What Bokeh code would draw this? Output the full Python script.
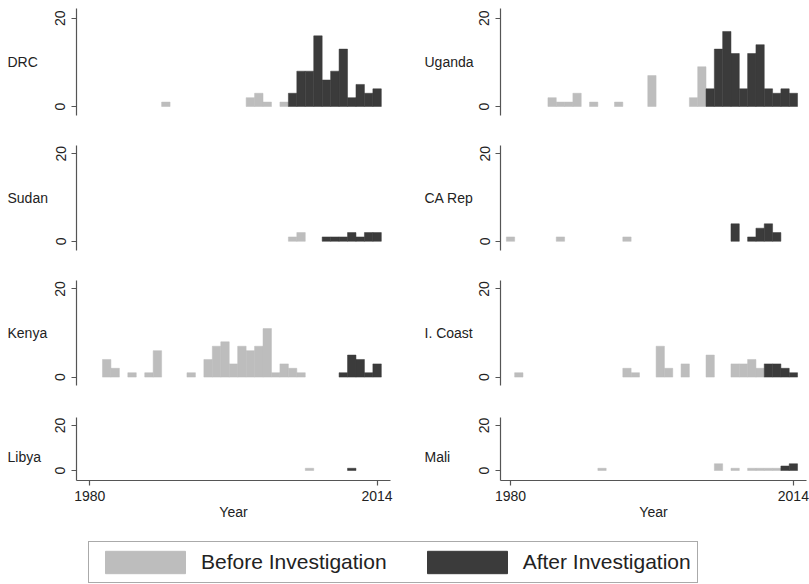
from bokeh.plotting import figure
from bokeh.models import Range1d, FixedTicker, Label, Legend, LegendItem
from bokeh.layouts import column, row
from bokeh.embed import file_html
from bokeh.resources import INLINE

# ---------------- data ----------------
years = list(range(1980, 2015))
year_ticks = [1980, 2014]
count_ticks = [0, 20]
series_names = ["Before Investigation", "After Investigation"]

# counts per year 1980..2014
drc = [0, 0, 0, 0, 0, 0, 0, 0, 0, 1,
       0, 0, 0, 0, 0, 0, 0, 0, 0, 2,
       3, 1, 0, 1, 3, 8, 8, 16, 6, 8,
       13, 2, 5, 3, 4]
uganda = [0, 0, 0, 0, 0, 2, 1, 1, 3, 0,
          1, 0, 0, 1, 0, 0, 0, 7, 0, 0,
          0, 0, 2, 9, 4, 13, 17, 12, 4, 12,
          14, 4, 3, 4, 3]
sudan = [0, 0, 0, 0, 0, 0, 0, 0, 0, 0,
         0, 0, 0, 0, 0, 0, 0, 0, 0, 0,
         0, 0, 0, 0, 1, 2, 0, 0, 1, 1,
         1, 2, 1, 2, 2]
ca_rep = [1, 0, 0, 0, 0, 0, 1, 0, 0, 0,
          0, 0, 0, 0, 1, 0, 0, 0, 0, 0,
          0, 0, 0, 0, 0, 0, 0, 4, 0, 1,
          3, 4, 2, 0, 0]
kenya = [0, 0, 4, 2, 0, 1, 0, 1, 6, 0,
         0, 0, 1, 0, 4, 7, 8, 3, 7, 6,
         7, 11, 1, 3, 2, 1, 0, 0, 0, 0,
         1, 5, 4, 1, 3]
i_coast = [0, 1, 0, 0, 0, 0, 0, 0, 0, 0,
           0, 0, 0, 0, 2, 1, 0, 0, 7, 2,
           0, 3, 0, 0, 5, 0, 0, 3, 3, 4,
           2, 3, 3, 2, 1]
libya = [0, 0, 0, 0, 0, 0, 0, 0, 0, 0,
         0, 0, 0, 0, 0, 0, 0, 0, 0, 0,
         0, 0, 0, 0, 0, 0, 1, 0, 0, 0,
         0, 1, 0, 0, 0]
mali = [0, 0, 0, 0, 0, 0, 0, 0, 0, 0,
        0, 1, 0, 0, 0, 0, 0, 0, 0, 0,
        0, 0, 0, 0, 0, 3, 0, 1, 0, 1,
        1, 1, 1, 2, 3]

# first year counted as "after investigation"
start_drc = 2004
start_uganda = 2004
start_sudan = 2008
start_ca_rep = 2007
start_kenya = 2010
start_i_coast = 2011
start_libya = 2011
start_mali = 2013

country_labels = ["DRC", "Uganda", "Sudan", "CA Rep", "Kenya", "I. Coast", "Libya", "Mali"]

# ---------------- style / layout ----------------
BEFORE = "#bdbdbd"
AFTER = "#3b3b3b"
AXIS = "#555555"
TEXT = "#222222"
FONT = "Liberation Sans"

# column geometry: label-strip width, label x, panel width, left border, right border,
# px per year, px from axis to first year tick
COLS = [
    dict(lw=50, lx=7, w=350, bl=26, br=10, ppy=8.45, off=13.3),
    dict(lw=74, lx=24, w=335, bl=26, br=3, ppy=8.32, off=10.0),
]
# row geometry: fig height, top border, bottom border, y range, label y
ROWS = [
    dict(h=130, bt=8, bb=15, y0=-2.04, y1=22.2, ly=10),
    dict(h=135, bt=15, bb=15, y0=-2.1, y1=21.9, ly=10),
    dict(h=135, bt=15, bb=15, y0=-1.9, y1=21.9, ly=10),
    dict(h=128, bt=17, bb=48, y0=-4.44, y1=23.56, ly=6),
]

panels = [
    (drc, start_drc), (uganda, start_uganda),
    (sudan, start_sudan), (ca_rep, start_ca_rep),
    (kenya, start_kenya), (i_coast, start_i_coast),
    (libya, start_libya), (mali, start_mali),
]


def blank(p):
    p.outline_line_color = None
    p.grid.visible = False
    p.background_fill_color = "white"
    p.border_fill_color = "white"


def make_label(idx):
    r, c = divmod(idx, 2)
    cg, rg = COLS[c], ROWS[r]
    p = figure(width=cg["lw"], height=rg["h"], output_backend="svg", toolbar_location=None,
               x_range=Range1d(0, cg["lw"]), y_range=Range1d(rg["y0"], rg["y1"]),
               min_border_left=0, min_border_right=0,
               min_border_top=rg["bt"], min_border_bottom=rg["bb"],
               x_axis_location=None, y_axis_location=None)
    blank(p)
    p.add_layout(Label(x=cg["lx"], y=rg["ly"], text=country_labels[idx], text_align="left",
                       text_baseline="middle", text_font=FONT, text_font_size="14px",
                       text_color=TEXT))
    return p


def make_panel(idx):
    counts, start = panels[idx]
    r, c = divmod(idx, 2)
    cg, rg = COLS[c], ROWS[r]
    frame_w = cg["w"] - cg["bl"] - cg["br"]
    x0 = year_ticks[0] - cg["off"] / cg["ppy"]
    x1 = x0 + frame_w / cg["ppy"]
    last = (r == 3)
    p = figure(width=cg["w"], height=rg["h"], output_backend="svg", toolbar_location=None,
               x_range=Range1d(x0, x1), y_range=Range1d(rg["y0"], rg["y1"]),
               min_border_left=cg["bl"], min_border_right=cg["br"],
               min_border_top=rg["bt"], min_border_bottom=rg["bb"],
               x_axis_location="below" if last else None)
    blank(p)

    bx = [y for y, v in zip(years, counts) if v > 0 and y < start]
    bv = [v for y, v in zip(years, counts) if v > 0 and y < start]
    ax = [y for y, v in zip(years, counts) if v > 0 and y >= start]
    av = [v for y, v in zip(years, counts) if v > 0 and y >= start]
    p.vbar(x=bx, top=bv, bottom=0, width=1, fill_color=BEFORE, line_color=BEFORE, line_width=0.5)
    p.vbar(x=ax, top=av, bottom=0, width=1, fill_color=AFTER, line_color=AFTER, line_width=0.5)

    ya = p.yaxis[0]
    ya.ticker = FixedTicker(ticks=count_ticks)
    ya.minor_tick_line_color = None
    ya.axis_line_color = AXIS
    ya.axis_line_width = 1.2
    ya.major_tick_line_color = AXIS
    ya.major_tick_line_width = 1.2
    ya.major_tick_out = 5
    ya.major_tick_in = 0
    ya.major_label_orientation = "vertical"
    ya.major_label_standoff = 6
    ya.major_label_text_font = FONT
    ya.major_label_text_font_size = "14px"
    ya.major_label_text_color = TEXT

    if last:
        xa = p.xaxis[0]
        xa.ticker = FixedTicker(ticks=year_ticks)
        xa.minor_tick_line_color = None
        xa.axis_line_color = AXIS
        xa.axis_line_width = 1.2
        xa.major_tick_line_color = AXIS
        xa.major_tick_line_width = 1.2
        xa.major_tick_out = 5
        xa.major_tick_in = 0
        xa.major_label_standoff = 5
        xa.major_label_text_font = FONT
        xa.major_label_text_font_size = "14px"
        xa.major_label_text_color = TEXT
        xa.axis_label = "Year"
        xa.axis_label_text_font = FONT
        xa.axis_label_text_font_size = "14px"
        xa.axis_label_text_font_style = "normal"
        xa.axis_label_text_color = TEXT
        xa.axis_label_standoff = 0
    return p


rows = []
for k in range(4):
    rows.append(row(make_label(2 * k), make_panel(2 * k), make_label(2 * k + 1), make_panel(2 * k + 1)))

# legend figure
lf = figure(width=809, height=56, output_backend="svg", toolbar_location=None,
            x_range=Range1d(0, 1), y_range=Range1d(0, 1), min_border=0,
            x_axis_location=None, y_axis_location=None)
blank(lf)
rb = lf.vbar(x=years, top=drc, width=1, fill_color=BEFORE, line_color=BEFORE, visible=False)
ra = lf.vbar(x=years, top=drc, width=1, fill_color=AFTER, line_color=AFTER, visible=False)
leg = Legend(items=[LegendItem(label=series_names[0], renderers=[rb]),
                    LegendItem(label=series_names[1], renderers=[ra])],
             orientation="horizontal", location=(88, 1),
             glyph_width=100, glyph_height=28, label_standoff=6, spacing=30,
             padding=6, margin=0, click_policy="none",
             label_text_font=FONT, label_text_font_size="21px", label_text_color=TEXT,
             border_line_color=AXIS, border_line_width=1.5, background_fill_color="white",
             background_fill_alpha=1.0, inactive_fill_alpha=0.0)
lf.add_layout(leg, "center")

layout = column(*rows, lf)
open("out.html", "w").write(file_html(layout, INLINE))
